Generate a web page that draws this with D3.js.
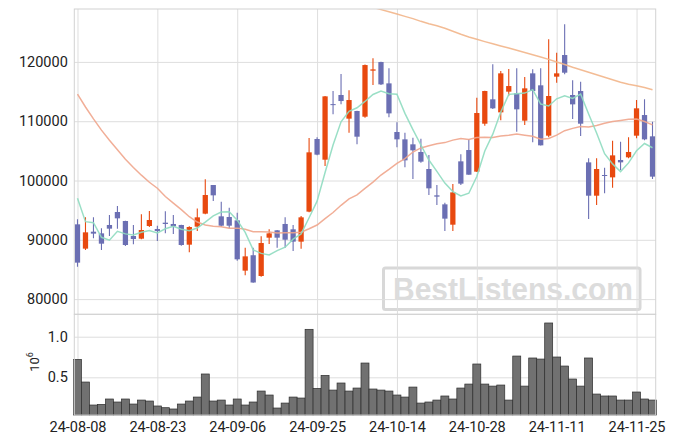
<!DOCTYPE html>
<html><head><meta charset="utf-8">
<script src="https://cdn.jsdelivr.net/npm/d3@7"></script>
<style>html,body{margin:0;padding:0;background:#fff;} svg{display:block;font-family:Roboto,"Liberation Sans",sans-serif;}</style>
</head><body><svg id="c" width="675" height="444"></svg>
<script>
const dates = ["2024-08-08","2024-08-09","2024-08-12","2024-08-13","2024-08-14","2024-08-16","2024-08-19","2024-08-20","2024-08-21","2024-08-22","2024-08-23",
"2024-08-26","2024-08-27","2024-08-28","2024-08-29","2024-08-30","2024-09-02","2024-09-03","2024-09-04","2024-09-05","2024-09-06",
"2024-09-09","2024-09-10","2024-09-11","2024-09-12","2024-09-13","2024-09-19","2024-09-20","2024-09-23","2024-09-24","2024-09-25",
"2024-09-26","2024-09-27","2024-09-30","2024-10-02","2024-10-04","2024-10-07","2024-10-08","2024-10-10","2024-10-11","2024-10-14",
"2024-10-15","2024-10-16","2024-10-17","2024-10-18","2024-10-21","2024-10-22","2024-10-23","2024-10-24","2024-10-25","2024-10-28",
"2024-10-29","2024-10-30","2024-10-31","2024-11-01","2024-11-04","2024-11-05","2024-11-06","2024-11-07","2024-11-08","2024-11-11",
"2024-11-12","2024-11-13","2024-11-14","2024-11-15","2024-11-18","2024-11-19","2024-11-20","2024-11-21","2024-11-22","2024-11-25",
"2024-11-26","2024-11-27"];
const open  = [92610,88510,91370,91090,92500,94690,93170,90640,90190,92330,91820,92890,92670,92500,89180,92220,94410,99240,93960,93850,93280,84800,87400,83900,90360,91600,92670,91770,89690,94750,107000,103510,112880,114420,110430,111720,110760,118520,119980,116380,108180,106940,106100,104810,101940,97500,95980,92550,103230,105140,101490,109580,113690,111490,114980,114700,110090,118070,116050,107560,117510,121160,114420,115090,103060,97440,100930,100530,103460,103910,107560,111040,107450];
const high  = [93450,93790,93790,91940,94180,95700,93230,92500,94300,94860,92380,94800,94180,92560,92300,95300,100200,99260,96430,95420,94580,88680,88680,90590,91770,91650,93790,92500,94020,107170,107280,114250,115090,117960,115200,111750,119550,120600,120040,118910,109810,108070,107220,107050,104300,99240,96260,99410,104410,107000,113970,115150,119590,118460,118800,118910,117450,118740,118910,123800,121550,126330,116890,116660,103740,103740,102160,106720,106550,107280,113570,113690,109920];
const low   = [85470,88280,90250,88280,90640,91880,88960,89240,90100,92160,89800,91090,90980,89010,87890,91490,94300,96540,92220,91940,86480,84010,82750,83790,89290,88680,88680,88110,88510,94630,104240,102440,111160,112840,108060,106100,110600,116100,116100,110650,105590,102220,100250,103010,97560,95870,91490,91490,99240,100950,101450,109250,112060,110150,114300,108230,109360,106440,105900,107280,116500,117900,110370,107500,93510,95870,97840,98790,101770,103740,107110,106770,100250];
const close = [86150,91260,91040,89350,91880,93620,89125,90140,91650,93340,91490,92670,92270,89125,92160,93790,97555,97500,92380,92380,86710,87210,82800,89460,91090,90360,90020,89690,93790,104750,104360,114190,112800,113400,113570,107390,119470,118740,116210,111320,106940,103400,105090,103180,98680,97280,93570,98000,99470,100980,111380,115090,112170,118070,115930,112000,115540,115090,105930,114250,118070,118180,112840,109580,97440,101940,100820,104240,103060,104810,112170,106940,100650];
const volume = [0.721,0.442,0.159,0.167,0.233,0.196,0.233,0.171,0.220,0.208,0.147,0.126,0.110,0.171,0.208,0.257,0.541,0.208,0.220,0.159,0.233,0.159,0.196,0.331,0.282,0.122,0.183,0.257,0.245,1.091,0.364,0.524,0.343,0.430,0.331,0.368,0.676,0.356,0.343,0.331,0.282,0.257,0.380,0.183,0.196,0.220,0.270,0.233,0.368,0.417,0.664,0.417,0.392,0.405,0.220,0.762,0.392,0.738,0.725,1.169,0.750,0.639,0.479,0.392,0.738,0.294,0.270,0.270,0.220,0.220,0.319,0.233,0.220];
const ma5 = [97000,93060,92890,90420,89930,91430,91000,90820,91280,91580,91150,91860,92280,91780,91540,92000,92980,94030,94680,94720,93310,91240,88300,87710,87450,88180,88750,90120,90990,93720,96520,101360,105980,109900,111660,112270,113330,114510,115080,114630,114540,111320,108590,105990,103460,101530,99560,98140,97400,97860,100680,104980,107820,111540,114530,114650,114740,115330,112900,112560,113780,114300,113850,114580,111220,108000,104520,102800,101500,102970,105020,106240,105530];
const ma20 = [114580,112400,110400,108500,106800,105200,103600,102200,100900,99700,98700,97300,96200,95100,93900,93000,92500,92300,92200,91940,91970,91770,91360,91360,91320,91160,91210,91180,91290,91860,92500,93580,94610,95820,96890,97570,98670,99730,100920,101870,102880,103690,104800,105490,105870,106210,106390,106810,107090,106900,107250,107300,107270,107500,107620,107850,107650,107470,106960,107100,107660,108400,108790,109110,109040,109280,109640,109950,110130,110320,110360,109950,109380];
const ma120 = [null,null,null,null,null,null,null,null,null,null,null,null,null,null,null,null,null,null,null,null,null,null,null,null,null,null,null,null,null,null,null,null,null,null,null,null,null,
129200,128810,128440,128070,127680,127300,126840,126420,126100,125660,125170,124650,124190,123810,123420,123050,122680,122340,121950,121580,121190,120820,120430,119980,119560,119090,118680,118240,117820,117400,116980,116560,116220,115970,115680,115290];
const priceTicks = [80000,90000,100000,110000,120000];
const volumeTicks = [0.5,1.0];
const dateTickIdx = [0,10,20,30,40,50,60,70];

const UP = "#e8490f", DOWN = "#6b6fb3";
const svg = d3.select("#c");
const L = 74.3, R = 655.7, T = 9, MB = 314.3, VB = 415;
const idx = d3.range(dates.length);
const x = d3.scaleLinear().domain([-0.4, 72.4]).range([L, R]);
const y = d3.scaleLinear().domain([77440, 128920]).range([MB, T]);
const yv = d3.scaleLinear().domain([0.036, 1.276]).range([VB, MB]);
const step = x(1) - x(0);

// watermark (under grid)
const wm = svg.append("g");
wm.append("rect").attr("x",383.5).attr("y",268).attr("width",256.5).attr("height",41.5).attr("rx",2)
  .attr("fill","none").attr("stroke","#d8d8d8").attr("stroke-width",3);
wm.append("text").attr("x",393).attr("y",300).attr("textLength",240).attr("lengthAdjust","spacingAndGlyphs")
  .attr("font-family","'Liberation Sans',Arial,sans-serif").attr("font-weight","bold").attr("font-size",32)
  .attr("fill","#dcdcdc").text("BestListens.com");

// grids
const gridC = "#dedede";
svg.append("g").attr("transform",`translate(${L},0)`)
  .call(d3.axisLeft(y).tickValues(priceTicks).tickSize(-(R-L)).tickFormat(""))
  .call(g=>{g.select(".domain").remove(); g.selectAll("line").attr("stroke",gridC);});
svg.append("g").attr("transform",`translate(${L},0)`)
  .call(d3.axisLeft(yv).tickValues(volumeTicks).tickSize(-(R-L)).tickFormat(""))
  .call(g=>{g.select(".domain").remove(); g.selectAll("line").attr("stroke",gridC);});
svg.append("g").attr("transform",`translate(0,${VB})`)
  .call(d3.axisBottom(x).tickValues(dateTickIdx).tickSize(-(VB-T)).tickFormat(""))
  .call(g=>{g.select(".domain").remove(); g.selectAll("line").attr("stroke",gridC);});

// clip for main panel
svg.append("clipPath").attr("id","mclip").append("rect").attr("x",L).attr("y",T).attr("width",R-L).attr("height",MB-T);
const main = svg.append("g").attr("clip-path","url(#mclip)");

// candles
const bw = step*0.66;
const cg = main.append("g");
cg.selectAll("line.w").data(idx).join("line").attr("class","w")
  .attr("x1",i=>x(i)).attr("x2",i=>x(i)).attr("y1",i=>y(high[i])).attr("y2",i=>y(low[i]))
  .attr("stroke",i=>close[i]>=open[i]?UP:DOWN).attr("stroke-width",1.1);
cg.selectAll("rect.b").data(idx).join("rect").attr("class","b")
  .attr("x",i=>x(i)-bw/2).attr("width",bw)
  .attr("y",i=>y(Math.max(open[i],close[i])))
  .attr("height",i=>Math.max(1,Math.abs(y(open[i])-y(close[i]))))
  .attr("fill",i=>close[i]>=open[i]?UP:DOWN);

// moving averages
const mkLine = arr => d3.line().defined(i=>arr[i]!=null).x(i=>x(i)).y(i=>y(arr[i]))(idx);
main.append("path").attr("d",mkLine(ma120)).attr("fill","none").attr("stroke","#f2b58a").attr("stroke-width",1.5).attr("opacity",0.9);
main.append("path").attr("d",mkLine(ma20)).attr("fill","none").attr("stroke","#f0a58c").attr("stroke-width",1.5).attr("opacity",0.9);
main.append("path").attr("d",mkLine(ma5)).attr("fill","none").attr("stroke","#8fdcc0").attr("stroke-width",1.5).attr("opacity",0.9);

// volume bars
svg.append("g").selectAll("rect").data(idx).join("rect")
  .attr("x",i=>x(i)-step/2).attr("width",step)
  .attr("y",i=>yv(volume[i])).attr("height",i=>VB-yv(volume[i]))
  .attr("fill","#717171").attr("stroke","#2e2e2e").attr("stroke-width",0.7);

// frames
const frameC = "#d2d2d2";
svg.append("rect").attr("x",L).attr("y",T).attr("width",R-L).attr("height",MB-T).attr("fill","none").attr("stroke",frameC);
svg.append("rect").attr("x",L).attr("y",MB).attr("width",R-L).attr("height",VB-MB).attr("fill","none").attr("stroke",frameC);

// axes labels
const txtC = "#222";
svg.append("g").attr("transform",`translate(${L},0)`)
  .call(d3.axisLeft(y).tickValues(priceTicks).tickSize(0).tickPadding(6.5).tickFormat(d3.format("d")))
  .call(g=>{g.select(".domain").remove(); g.selectAll("text").attr("font-size",14.5).attr("fill",txtC).attr("font-family","Roboto");});
svg.append("g").attr("transform",`translate(${L},0)`)
  .call(d3.axisLeft(yv).tickValues(volumeTicks).tickSize(0).tickPadding(6.5).tickFormat(d3.format(".1f")))
  .call(g=>{g.select(".domain").remove(); g.selectAll("text").attr("font-size",14.5).attr("fill",txtC).attr("font-family","Roboto");});
svg.append("g").attr("transform",`translate(0,${VB})`)
  .call(d3.axisBottom(x).tickValues(dateTickIdx).tickSize(0).tickPadding(6.5).tickFormat(i=>dates[i].slice(2)))
  .call(g=>{g.select(".domain").remove(); g.selectAll("text").attr("font-size",14.5).attr("fill",txtC).attr("font-family","Roboto");});

// 10^6 label
const vl = svg.append("text").attr("transform","translate(39,362) rotate(-90)").attr("text-anchor","middle")
  .attr("font-family","Roboto").attr("fill",txtC);
vl.append("tspan").attr("font-size",13).text("10");
vl.append("tspan").attr("font-size",9).attr("dy",-6).text("6");
</script></body></html>
